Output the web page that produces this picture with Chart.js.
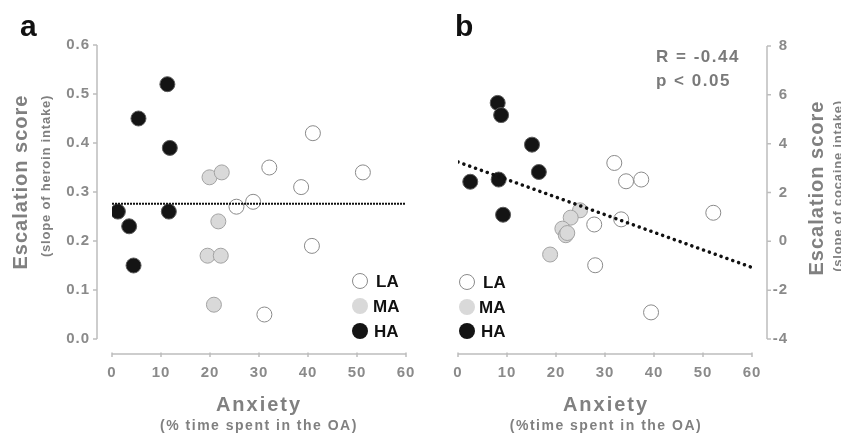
<!DOCTYPE html>
<html>
<head>
<meta charset="utf-8">
<script src="https://cdn.jsdelivr.net/npm/chart.js@4.4.1/dist/chart.umd.min.js"></script>
<style>
  html, body { margin: 0; padding: 0; background: #fff; }
  #wrap { position: relative; width: 841px; height: 433px; overflow: hidden; font-family: "Liberation Sans", Arial, sans-serif; font-weight: bold; }
  #wrap canvas { position: absolute; top: 0; }
  .txt { position: absolute; white-space: nowrap; line-height: 1; }
  .grey { color: #808080; }
  .rot { transform: translate(-50%, -50%) rotate(-90deg); }
  .ctr { transform: translateX(-50%); }
  .dot { position: absolute; width: 16px; height: 16px; border-radius: 50%; box-sizing: border-box; transform: translate(-50%, -50%); }
</style>
</head>
<body>
<div id="wrap">
  <canvas id="chartA" width="420" height="433" style="left:0"></canvas>
  <canvas id="chartB" width="421" height="433" style="left:420px"></canvas>

  <div class="txt" style="left:20px;top:11px;font-size:30px;color:#111">a</div>
  <div class="txt" style="left:455px;top:11px;font-size:30px;color:#111">b</div>

  <div class="txt grey rot" style="left:20px;top:182px;font-size:20px;letter-spacing:1px">Escalation score</div>
  <div class="txt grey rot" style="left:45px;top:176px;font-size:13px;letter-spacing:0.8px">(slope of heroin intake)</div>
  <div class="txt grey rot" style="left:816px;top:188px;font-size:20px;letter-spacing:1px">Escalation score</div>
  <div class="txt grey rot" style="left:837px;top:186px;font-size:13px;letter-spacing:0.8px">(slope of cocaine intake)</div>

  <div class="txt grey ctr" style="left:259px;top:394px;font-size:20px;letter-spacing:2px">Anxiety</div>
  <div class="txt grey ctr" style="left:259px;top:418px;font-size:14px;letter-spacing:1.5px">(% time spent in the OA)</div>
  <div class="txt grey ctr" style="left:606px;top:394px;font-size:20px;letter-spacing:2px">Anxiety</div>
  <div class="txt grey ctr" style="left:606px;top:418px;font-size:14px;letter-spacing:1.5px">(%time spent in the OA)</div>

  <div class="txt" style="left:656px;top:48px;font-size:17px;letter-spacing:1.5px;color:#7a7a7a">R = -0.44</div>
  <div class="txt" style="left:656px;top:72px;font-size:17px;letter-spacing:1.5px;color:#7a7a7a">p &lt; 0.05</div>

  <div class="dot" style="left:360px;top:281px;background:#fff;border:1px solid #8a8a8a"></div>
  <div class="dot" style="left:360px;top:306px;background:#d9d9d9"></div>
  <div class="dot" style="left:360px;top:331px;background:#141414"></div>
  <div class="txt" style="left:376px;top:273px;font-size:17px;color:#111">LA</div>
  <div class="txt" style="left:373px;top:298px;font-size:17px;color:#111">MA</div>
  <div class="txt" style="left:374px;top:323px;font-size:17px;color:#111">HA</div>

  <div class="dot" style="left:467px;top:282px;background:#fff;border:1px solid #8a8a8a"></div>
  <div class="dot" style="left:467px;top:307px;background:#d9d9d9"></div>
  <div class="dot" style="left:467px;top:331px;background:#141414"></div>
  <div class="txt" style="left:483px;top:274px;font-size:17px;color:#111">LA</div>
  <div class="txt" style="left:479px;top:299px;font-size:17px;color:#111">MA</div>
  <div class="txt" style="left:481px;top:323px;font-size:17px;color:#111">HA</div>
</div>

<script>
// tick labels
var xTicks = [0, 10, 20, 30, 40, 50, 60];
var yTicksA = [0, 0.1, 0.2, 0.3, 0.4, 0.5, 0.6];
var yTicksB = [-4, -2, 0, 2, 4, 6, 8];

// panel a : heroin
var haXA = [11.3, 5.4, 11.8, 1.2, 11.6, 3.5, 4.4];
var haYA = [0.52, 0.45, 0.39, 0.26, 0.26, 0.23, 0.15];
var maXA = [19.9, 22.4, 21.7, 19.5, 22.2, 20.8];
var maYA = [0.33, 0.34, 0.24, 0.17, 0.17, 0.07];
var laXA = [41.0, 32.1, 51.2, 38.6, 25.4, 28.8, 40.8, 31.1];
var laYA = [0.42, 0.35, 0.34, 0.31, 0.27, 0.28, 0.19, 0.05];
var fitXA = [0, 60];
var fitYA = [0.276, 0.276];

// panel b : cocaine
var haXB = [8.1, 8.8, 15.1, 16.5, 2.5, 8.3, 9.2];
var haYB = [5.67, 5.17, 3.96, 2.84, 2.44, 2.53, 1.09];
var maXB = [24.9, 23.0, 21.3, 22.0, 22.3, 18.8];
var maYB = [1.27, 0.97, 0.52, 0.25, 0.34, -0.54];
var laXB = [31.9, 34.3, 37.4, 52.1, 33.3, 27.8, 28.0, 39.4];
var laYB = [3.21, 2.46, 2.53, 1.17, 0.90, 0.69, -0.98, -2.91];
var fitXB = [0, 60];
var fitYB = [3.25, -1.07];

var tickColor = "#8a8a8a";
var axisColor = "#bdbdbd";
var tickFont = { family: "'Liberation Sans', Arial, sans-serif", size: 15, weight: "bold" };

function pts(xs, ys) {
	return xs.map(function(x, i) { return { x: x, y: ys[i] }; });
}

function setTicks(list) {
	return function(s) {
		s.ticks = list.map(function(v) { return { value: v }; });
	};
}

// axes drawn detached from the plot area, like the original
var offsetAxes = {
	id: "offsetAxes",
	beforeDraw: function(chart) {
		chart.ctx.letterSpacing = "1px";
	},
	afterDraw: function(chart, args, opts) {
		var ctx = chart.ctx;
		var a = chart.chartArea;
		var xs = chart.scales.x;
		var ys = chart.scales.y;
		var gap = 15;
		var right = opts.side == "right";
		var yx = right ? a.right + gap : a.left - gap;
		var dir = right ? 1 : -1;
		var xy = a.bottom + gap;
		ctx.save();
		ctx.strokeStyle = axisColor;
		ctx.lineWidth = 1.5;
		ctx.beginPath();
		ctx.moveTo(yx, ys.getPixelForValue(ys.max));
		ctx.lineTo(yx, ys.getPixelForValue(ys.min));
		ys.ticks.forEach(function(t) {
			var p = ys.getPixelForValue(t.value);
			ctx.moveTo(yx, p);
			ctx.lineTo(yx + dir * 4, p);
		});
		ctx.moveTo(xs.getPixelForValue(xs.min), xy);
		ctx.lineTo(xs.getPixelForValue(xs.max), xy);
		xs.ticks.forEach(function(t) {
			var p = xs.getPixelForValue(t.value);
			ctx.moveTo(p, xy - 1.5);
			ctx.lineTo(p, xy + 3);
		});
		ctx.stroke();
		ctx.restore();
	}
};

function groups(la, ma, ha) {
	return [
		{ type: "scatter", data: ha, order: 1, pointRadius: 7.5, pointBackgroundColor: "#141414", pointBorderColor: "#5a5a5a", pointBorderWidth: 1 },
		{ type: "scatter", data: ma, order: 2, pointRadius: 7.5, pointBackgroundColor: "#d9d9d9", pointBorderColor: "#a3a3a3", pointBorderWidth: 1 },
		{ type: "scatter", data: la, order: 3, pointRadius: 7.5, pointBackgroundColor: "#ffffff", pointBorderColor: "#8a8a8a", pointBorderWidth: 1 }
	];
}

function baseOptions(side, pad, yMin, yMax, yList, yFmt, yWidth, xHeight, align) {
	return {
		responsive: false,
		devicePixelRatio: 1,
		animation: false,
		layout: { padding: pad },
		plugins: { legend: { display: false }, tooltip: { enabled: false }, offsetAxes: { side: side } },
		scales: {
			x: {
				type: "linear", position: "bottom", min: 0, max: 60,
				afterBuildTicks: setTicks(xTicks),
				afterFit: function(s) { s.height = xHeight; s.paddingLeft = 0; s.paddingRight = 0; },
				grid: { display: false, drawTicks: false }, border: { display: false },
				ticks: { color: tickColor, font: tickFont, padding: 25 }
			},
			y: {
				type: "linear", position: side, min: yMin, max: yMax,
				afterBuildTicks: setTicks(yList),
				afterFit: function(s) { s.width = yWidth; s.paddingTop = 0; s.paddingBottom = 0; },
				grid: { display: false, drawTicks: false }, border: { display: false },
				ticks: { color: tickColor, font: tickFont, padding: 22, crossAlign: align, callback: yFmt }
			}
		}
	};
}

var dsA = groups(pts(laXA, laYA), pts(maXA, maYA), pts(haXA, haYA));
dsA.unshift({ type: "line", data: pts(fitXA, fitYA), order: 0, borderColor: "#111", borderWidth: 2, borderDash: [2, 1], pointRadius: 0, fill: false });

new Chart(document.getElementById("chartA"), {
	type: "scatter",
	data: { datasets: dsA },
	options: baseOptions("left", { left: 0, top: 45, right: 14, bottom: 0 }, 0, 0.6, yTicksA,
		function(v) { return v.toFixed(1); }, 112, 94, "near"),
	plugins: [offsetAxes]
});

var dsB = groups(pts(laXB, laYB), pts(maXB, maYB), pts(haXB, haYB));
dsB.unshift({ type: "line", data: pts(fitXB, fitYB), order: 0, borderColor: "#111", borderWidth: 3.5, borderDash: [0.01, 6.2], borderCapStyle: "round", pointRadius: 0, fill: false });

// right axis labels are right-aligned at the scale's outer edge
new Chart(document.getElementById("chartB"), {
	type: "scatter",
	data: { datasets: dsB },
	options: baseOptions("right", { left: 38, top: 46, right: 53, bottom: 0 }, -4, 8, yTicksB,
		function(v) { return String(v); }, 36, 94, "far"),
	plugins: [offsetAxes]
});
</script>
</body>
</html>
